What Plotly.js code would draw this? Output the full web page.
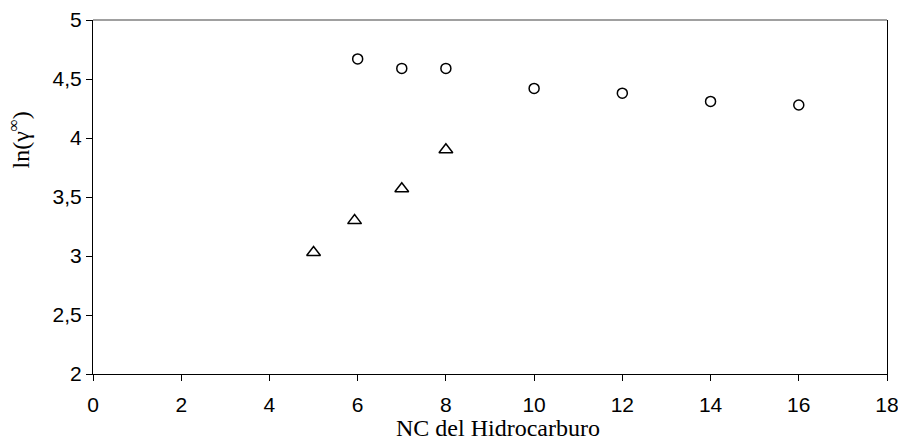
<!DOCTYPE html>
<html>
<head>
<meta charset="utf-8">
<script src="https://cdn.plot.ly/plotly-3.0.1.min.js"></script>
<style>html,body{margin:0;padding:0;background:#fff;}#chart{width:898px;height:441px;}</style>
</head>
<body>
<div id="chart"></div>
<script>
// Data
var circleX = [6, 7, 8, 10, 12, 14, 16];
var circleY = [4.67, 4.59, 4.59, 4.42, 4.38, 4.31, 4.28];
var triangleX = [5, 5.93, 7, 8];
var triangleY = [3.03, 3.30, 3.57, 3.90];
var xTitle = "NC del Hidrocarburo";
var yTitle = "ln(γ<sup>∞</sup>)";

var traces = [
  {x: circleX, y: circleY, mode: "markers", type: "scatter",
   marker: {symbol: "circle-open", size: 10, color: "#000", line: {width: 1.5, color: "#000"}}},
  {x: triangleX, y: triangleY, mode: "markers", type: "scatter",
   marker: {symbol: "triangle-up-open", size: 12, color: "#000", line: {width: 1.5, color: "#000"}}}
];

var tickFont = {family: "Liberation Sans, Arial, sans-serif", size: 21, color: "#000"};
var layout = {
  width: 898, height: 441,
  margin: {l: 93, r: 11, t: 20, b: 67},
  paper_bgcolor: "#fff", plot_bgcolor: "#fff",
  showlegend: false,
  separators: ", ",
  xaxis: {range: [0, 18], dtick: 2, tick0: 0, showgrid: false, zeroline: false,
          showline: true, linecolor: "#000", linewidth: 1,
          ticks: "outside", ticklen: 6, tickcolor: "#000", tickwidth: 1,
          tickfont: tickFont, ticklabelstandoff: 6, ticklabeloverflow: "allow"},
  yaxis: {range: [2, 5], dtick: 0.5, tick0: 2, showgrid: false, zeroline: false,
          showline: true, linecolor: "#000", linewidth: 1, mirror: true,
          ticks: "outside", ticklen: 6, tickcolor: "#000", tickwidth: 1,
          tickfont: tickFont, ticklabeloverflow: "allow"},
  shapes: [
    {type: "line", xref: "paper", yref: "paper", x0: 0, x1: 1, y0: 1, y1: 1,
     line: {color: "#808080", width: 1.5}}
  ],
  annotations: [
    {text: xTitle, xref: "paper", yref: "paper", x: 0.51, y: -0.194, yanchor: "bottom",
     showarrow: false, font: {family: "Liberation Serif, Times New Roman, serif", size: 24, color: "#000"}},
    {text: yTitle, xref: "paper", yref: "paper", x: -0.093, y: 0.66, xanchor: "center", yanchor: "middle",
     textangle: -90, showarrow: false,
     font: {family: "Liberation Serif, Times New Roman, serif", size: 24, color: "#000"}}
  ]
};

Plotly.newPlot("chart", traces, layout, {displayModeBar: false, staticPlot: true});
</script>
</body>
</html>
